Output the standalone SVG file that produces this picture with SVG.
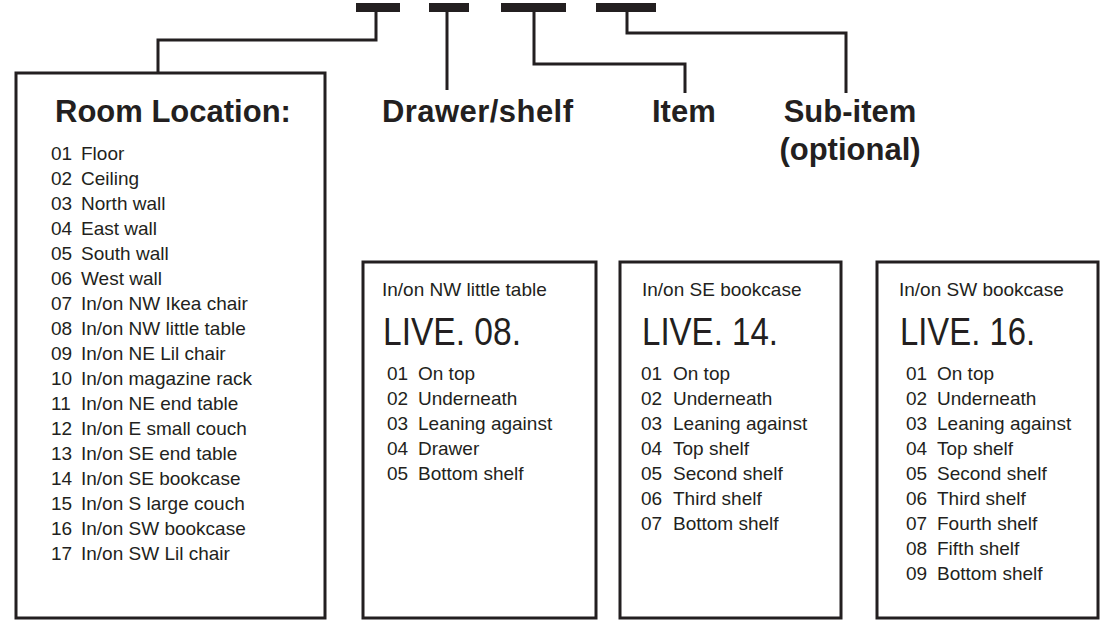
<svg xmlns="http://www.w3.org/2000/svg" width="1100" height="620" viewBox="0 0 1100 620">
  <style>
    .frame { fill: #ffffff; stroke: #231f20; stroke-width: 3; }
    .wire { fill: none; stroke: #231f20; stroke-width: 3; stroke-linejoin: miter; }
    .slot { fill: #231f20; }
    .head { font-family: "Liberation Sans", Arial, sans-serif; font-weight: bold; font-size: 31px; fill: #231f20; }
    .cap { font-family: "Liberation Sans", Arial, sans-serif; font-size: 19px; fill: #231f20; }
    .code { font-family: "Liberation Sans", Arial, sans-serif; font-size: 38px; fill: #231f20; }
    .row { font-family: "Liberation Sans", Arial, sans-serif; font-size: 19px; fill: #231f20; }
  </style>

  <!-- code slots along the top -->
  <g id="slots">
    <rect class="slot" x="356" y="3" width="44" height="9"/>
    <rect class="slot" x="429" y="3" width="40" height="9"/>
    <rect class="slot" x="501" y="3" width="65" height="9"/>
    <rect class="slot" x="596" y="3" width="60" height="9"/>
  </g>

  <!-- leader lines from each slot to its label -->
  <g id="connectors">
    <polyline class="wire" points="376,12 376,40 158,40 158,73"/>
    <polyline class="wire" points="447,12 447,90"/>
    <polyline class="wire" points="534,12 534,64 685,64 685,93"/>
    <polyline class="wire" points="627,12 627,33 846,33 846,93"/>
  </g>

  <!-- room location list -->
  <g id="room-location">
    <rect class="frame" x="16" y="73" width="309" height="545"/>
    <text class="head" x="55" y="122" font-size="30">Room Location:</text>
    <g class="row">
      <text y="160"><tspan x="51">01</tspan><tspan x="81">Floor</tspan></text>
      <text y="185"><tspan x="51">02</tspan><tspan x="81">Ceiling</tspan></text>
      <text y="210"><tspan x="51">03</tspan><tspan x="81">North wall</tspan></text>
      <text y="235"><tspan x="51">04</tspan><tspan x="81">East wall</tspan></text>
      <text y="260"><tspan x="51">05</tspan><tspan x="81">South wall</tspan></text>
      <text y="285"><tspan x="51">06</tspan><tspan x="81">West wall</tspan></text>
      <text y="310"><tspan x="51">07</tspan><tspan x="81">In/on NW Ikea chair</tspan></text>
      <text y="335"><tspan x="51">08</tspan><tspan x="81">In/on NW little table</tspan></text>
      <text y="360"><tspan x="51">09</tspan><tspan x="81">In/on NE Lil chair</tspan></text>
      <text y="385"><tspan x="51">10</tspan><tspan x="81">In/on magazine rack</tspan></text>
      <text y="410"><tspan x="51">11</tspan><tspan x="81">In/on NE end table</tspan></text>
      <text y="435"><tspan x="51">12</tspan><tspan x="81">In/on E small couch</tspan></text>
      <text y="460"><tspan x="51">13</tspan><tspan x="81">In/on SE end table</tspan></text>
      <text y="485"><tspan x="51">14</tspan><tspan x="81">In/on SE bookcase</tspan></text>
      <text y="510"><tspan x="51">15</tspan><tspan x="81">In/on S large couch</tspan></text>
      <text y="535"><tspan x="51">16</tspan><tspan x="81">In/on SW bookcase</tspan></text>
      <text y="560"><tspan x="51">17</tspan><tspan x="81">In/on SW Lil chair</tspan></text>
    </g>
  </g>

  <!-- field labels -->
  <g id="label-drawer"><text class="head" x="382" y="122" textLength="191">Drawer/shelf</text></g>
  <g id="label-item"><text class="head" x="652" y="122">Item</text></g>
  <g id="label-subitem">
    <text class="head" x="850" y="122" text-anchor="middle">Sub-item</text>
    <text class="head" x="850" y="160" text-anchor="middle">(optional)</text>
  </g>

  <!-- LIVE.08 : NW little table -->
  <g id="live-08">
    <rect class="frame" x="363" y="262" width="233" height="356"/>
    <text class="cap" x="382" y="296">In/on NW little table</text>
    <text class="code" x="383" y="345" textLength="138" lengthAdjust="spacingAndGlyphs">LIVE. 08.</text>
    <g class="row">
      <text y="380"><tspan x="387">01</tspan><tspan x="418">On top</tspan></text>
      <text y="405"><tspan x="387">02</tspan><tspan x="418">Underneath</tspan></text>
      <text y="430"><tspan x="387">03</tspan><tspan x="418">Leaning against</tspan></text>
      <text y="455"><tspan x="387">04</tspan><tspan x="418">Drawer</tspan></text>
      <text y="480"><tspan x="387">05</tspan><tspan x="418">Bottom shelf</tspan></text>
    </g>
  </g>

  <!-- LIVE.14 : SE bookcase -->
  <g id="live-14">
    <rect class="frame" x="620" y="262" width="221" height="356"/>
    <text class="cap" x="642" y="296">In/on SE bookcase</text>
    <text class="code" x="642" y="345" textLength="136" lengthAdjust="spacingAndGlyphs">LIVE. 14.</text>
    <g class="row">
      <text y="380"><tspan x="641">01</tspan><tspan x="673">On top</tspan></text>
      <text y="405"><tspan x="641">02</tspan><tspan x="673">Underneath</tspan></text>
      <text y="430"><tspan x="641">03</tspan><tspan x="673">Leaning against</tspan></text>
      <text y="455"><tspan x="641">04</tspan><tspan x="673">Top shelf</tspan></text>
      <text y="480"><tspan x="641">05</tspan><tspan x="673">Second shelf</tspan></text>
      <text y="505"><tspan x="641">06</tspan><tspan x="673">Third shelf</tspan></text>
      <text y="530"><tspan x="641">07</tspan><tspan x="673">Bottom shelf</tspan></text>
    </g>
  </g>

  <!-- LIVE.16 : SW bookcase -->
  <g id="live-16">
    <rect class="frame" x="877" y="262" width="221" height="356"/>
    <text class="cap" x="899" y="296">In/on SW bookcase</text>
    <text class="code" x="900" y="345" textLength="135" lengthAdjust="spacingAndGlyphs">LIVE. 16.</text>
    <g class="row">
      <text y="380"><tspan x="906">01</tspan><tspan x="937">On top</tspan></text>
      <text y="405"><tspan x="906">02</tspan><tspan x="937">Underneath</tspan></text>
      <text y="430"><tspan x="906">03</tspan><tspan x="937">Leaning against</tspan></text>
      <text y="455"><tspan x="906">04</tspan><tspan x="937">Top shelf</tspan></text>
      <text y="480"><tspan x="906">05</tspan><tspan x="937">Second shelf</tspan></text>
      <text y="505"><tspan x="906">06</tspan><tspan x="937">Third shelf</tspan></text>
      <text y="530"><tspan x="906">07</tspan><tspan x="937">Fourth shelf</tspan></text>
      <text y="555"><tspan x="906">08</tspan><tspan x="937">Fifth shelf</tspan></text>
      <text y="580"><tspan x="906">09</tspan><tspan x="937">Bottom shelf</tspan></text>
    </g>
  </g>
</svg>
